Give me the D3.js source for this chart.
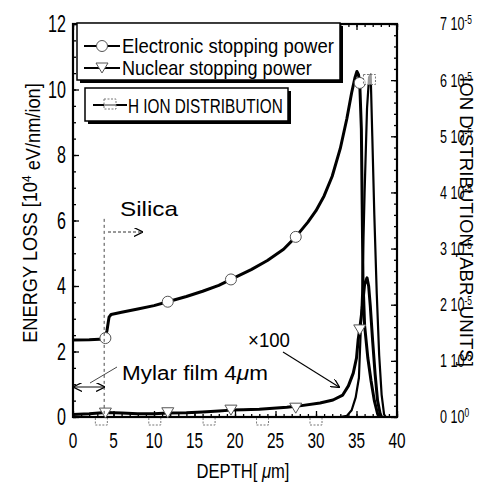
<!DOCTYPE html>
<html>
<head>
<meta charset="utf-8">
<script src="https://cdn.jsdelivr.net/npm/d3@7/dist/d3.min.js"></script>
<style>
  html, body { margin: 0; padding: 0; background: #fff; }
  svg { display: block; }
</style>
</head>
<body>
<div class="content"></div>
<script>
(function (window) {
    'use strict';

    // electronic stopping power [10^4 eV/nm/ion]
    var depthElec = [0, 2, 3.9, 4.0, 4.2, 4.45, 4.7, 6, 8, 10, 11.7, 14, 16, 18, 19.5, 22, 24, 26, 27.5, 29, 30, 31, 32, 33, 33.8, 34.4, 34.8, 35.05, 35.25, 35.4, 35.6, 35.7, 35.8, 36.0, 36.4, 36.8, 37.2, 37.6, 37.8];
    var elecLoss = [2.35, 2.36, 2.38, 2.41, 2.65, 3.05, 3.13, 3.2, 3.3, 3.4, 3.52, 3.68, 3.84, 4.02, 4.2, 4.5, 4.78, 5.12, 5.5, 5.95, 6.3, 6.75, 7.35, 8.2, 9.1, 9.9, 10.35, 10.55, 10.45, 10.2, 8.8, 6.5, 4.2, 2.8, 1.8, 1.1, 0.5, 0.1, 0];

    // nuclear stopping power x100
    var depthNuc = [0, 2, 4, 6, 8, 10, 11.7, 14, 16, 18, 19.5, 21, 23, 26.4, 28, 30.5, 32.1, 33.3, 34, 34.6, 35.0, 35.2, 35.4, 35.7, 36.0, 36.3, 36.5, 36.7, 37.0, 37.3, 37.6, 37.9, 38.1];
    var nucLoss = [0.08, 0.1, 0.14, 0.12, 0.1, 0.1, 0.12, 0.13, 0.15, 0.18, 0.21, 0.22, 0.24, 0.3, 0.34, 0.43, 0.52, 0.67, 0.95, 1.34, 1.8, 2.35, 2.69, 3.3, 4.05, 4.25, 4.0, 3.4, 2.3, 1.3, 0.5, 0.12, 0];

    // H ion distribution [10^-5 abr. units]
    var depthIon = [0, 10, 20, 30, 33, 33.8, 34.4, 34.9, 35.3, 35.7, 36.0, 36.3, 36.55, 36.75, 36.95, 37.2, 37.5, 37.8, 38.1, 38.4, 38.6];
    var ionDist = [0, 0, 0, 0, 0, 0.02, 0.12, 0.35, 0.7, 2.2, 4.0, 5.5, 6.05, 6.1, 5.0, 3.6, 2.2, 1.1, 0.4, 0.05, 0];

    // marker positions
    var markDepth = [4, 11.7, 19.5, 27.5, 35.4];
    var markElec = [2.41, 3.52, 4.2, 5.5, 10.2];
    var markNuc = [0.15, 0.16, 0.24, 0.3, 2.69];
    var markIonDepth = [3.5, 10.1, 16.8, 23.4, 30.0, 36.6];
    var markIon = [0, 0, 0, 0, 0, 6.1];

    var xTicks = [0, 5, 10, 15, 20, 25, 30, 35, 40];
    var yLeftTicks = [0, 2, 4, 6, 8, 10, 12];
    var yRightTicks = [0, 1, 2, 3, 4, 5, 6, 7];

    var W = 481, H = 483,
        FONT = '"Liberation Sans", Arial, sans-serif',
        NARROW = 0.7,
        plot = {left: 73, right: 397, top: 24, bottom: 417},
        svg, x, yL, yR, i;

    svg = d3.select(".content").append("svg")
        .attr("width", W).attr("height", H)
        .style("font-family", FONT);

    x = d3.scaleLinear().domain([0, 40]).range([plot.left, plot.right]);
    yL = d3.scaleLinear().domain([0, 12]).range([plot.bottom, plot.top]);
    yR = d3.scaleLinear().domain([0, 7]).range([plot.bottom, plot.top]);

    function zip(xs, ys) {
        return xs.map(function (d, k) { return [d, ys[k]]; });
    }

    function rangeStep(a, b, s) {
        return d3.range(Math.round((b - a) / s) + 1).map(function (k) { return a + k * s; });
    }

    // squeeze a text (drawn at 0,0) to a given width, the source font is very narrow
    function fitText(t, tx, ty, width, rot) {
        var len = t.node().getComputedTextLength();
        t.attr("transform", "translate(" + tx + "," + ty + ")" +
            (rot ? " rotate(" + rot + ")" : "") + " scale(" + (width / len) + ",1)");
        return t;
    }

    // ---- inward ticks (no labels, axis drawn with D3 then labels by hand)
    function tickAxis(axis, pos, vals, size) {
        var g = svg.append("g").attr("transform", pos)
            .call(axis.tickValues(vals).tickSize(size).tickFormat(""));
        g.select(".domain").remove();
        g.selectAll("line").attr("stroke", "#000").attr("stroke-width", 1.3);
        return g;
    }
    tickAxis(d3.axisBottom(x), "translate(0," + plot.bottom + ")", rangeStep(0, 40, 1), -3);
    tickAxis(d3.axisBottom(x), "translate(0," + plot.bottom + ")", xTicks, -6);
    tickAxis(d3.axisTop(x), "translate(0," + plot.top + ")", rangeStep(0, 40, 1), -3);
    tickAxis(d3.axisTop(x), "translate(0," + plot.top + ")", xTicks, -6);
    tickAxis(d3.axisLeft(yL), "translate(" + plot.left + ",0)", rangeStep(0, 12, 0.5), -3);
    tickAxis(d3.axisLeft(yL), "translate(" + plot.left + ",0)", yLeftTicks, -6);
    tickAxis(d3.axisRight(yR), "translate(" + plot.right + ",0)", rangeStep(0, 7, 0.2), -3);
    tickAxis(d3.axisRight(yR), "translate(" + plot.right + ",0)", yRightTicks, -6);

    // frame
    svg.append("rect")
        .attr("x", plot.left).attr("y", plot.top)
        .attr("width", plot.right - plot.left).attr("height", plot.bottom - plot.top)
        .attr("fill", "none").attr("stroke", "#000").attr("stroke-width", 2.2);

    // tick labels
    svg.append("g").selectAll("text").data(xTicks).enter().append("text")
        .attr("transform", function (d) { return "translate(" + x(d) + ",448) scale(" + NARROW + ",1)"; })
        .attr("text-anchor", "middle")
        .attr("font-size", 22)
        .text(function (d) { return d; });

    svg.append("g").selectAll("text").data(yLeftTicks).enter().append("text")
        .attr("transform", function (d) { return "translate(66," + yL(d) + ") scale(" + NARROW + ",1)"; })
        .attr("dy", "0.36em")
        .attr("text-anchor", "end")
        .attr("font-size", 23)
        .text(function (d) { return d; });

    var rt = svg.append("g").selectAll("text").data(yRightTicks).enter().append("text")
        .attr("transform", function (d) { return "translate(440," + yR(d) + ") scale(" + NARROW + ",1)"; })
        .attr("dy", "0.36em")
        .attr("font-size", 18);
    rt.append("tspan").text(function (d) { return d + " 10"; });
    rt.append("tspan").attr("dy", "-0.5em").attr("font-size", 12)
        .text(function (d) { return d === 0 ? "0" : "-5"; });

    // axis titles
    var yt = svg.append("text").attr("text-anchor", "middle").attr("font-size", 20);
    yt.append("tspan").text("ENERGY LOSS [10");
    yt.append("tspan").attr("dy", "-0.45em").attr("font-size", 13).text("4");
    yt.append("tspan").attr("dy", "0.45em").text(" eV/nm/ion]");
    fitText(yt, 37, 213, 260, -90);

    fitText(svg.append("text").attr("text-anchor", "middle").attr("font-size", 19)
        .text("ION DISTRIBUTION [ABR. UNITS]"), 460, 222, 290, 90);

    var xt = svg.append("text").attr("text-anchor", "middle").attr("font-size", 20);
    xt.append("tspan").text("DEPTH[ ");
    xt.append("tspan").attr("font-style", "italic").text("μ");
    xt.append("tspan").text("m]");
    fitText(xt, 243, 478, 93);

    // ---- curves
    var lineL = d3.line().x(function (d) { return x(d[0]); }).y(function (d) { return yL(d[1]); }),
        lineR = d3.line().x(function (d) { return x(d[0]); }).y(function (d) { return yR(d[1]); });

    svg.append("path").datum(zip(depthIon, ionDist))
        .attr("d", lineR).attr("fill", "none").attr("stroke", "#000")
        .attr("stroke-width", 2.2).attr("stroke-linejoin", "round");
    svg.append("path").datum(zip(depthNuc, nucLoss))
        .attr("d", lineL).attr("fill", "none").attr("stroke", "#000")
        .attr("stroke-width", 3).attr("stroke-linejoin", "round");
    svg.append("path").datum(zip(depthElec, elecLoss))
        .attr("d", lineL).attr("fill", "none").attr("stroke", "#000")
        .attr("stroke-width", 3).attr("stroke-linejoin", "round");

    // ---- markers
    var tri = "M-6,-4L6,-4L0,6Z",
        bracket = "M-6,1L-6,8L6,8L6,1";

    function circleMark(g, cx, cy) {
        g.append("circle").attr("cx", cx).attr("cy", cy).attr("r", 5.5)
            .attr("fill", "#fff").attr("stroke", "#555").attr("stroke-width", 1);
    }
    function triMark(g, cx, cy) {
        g.append("path").attr("d", tri).attr("transform", "translate(" + cx + "," + cy + ")")
            .attr("fill", "#fff").attr("stroke", "#555").attr("stroke-width", 1);
    }
    function ionMark(g, cx, cy, peak) {
        g.append("path").attr("d", peak ? "M-6,0L6,0L6,10L-6,10Z" : bracket)
            .attr("transform", "translate(" + cx + "," + cy + ")")
            .attr("fill", peak ? "#fff" : "none").attr("fill-opacity", 0.6)
            .attr("stroke", "#777").attr("stroke-width", 1)
            .attr("stroke-dasharray", "2,1.5");
    }

    var marks = svg.append("g");
    for (i = 0; i < markDepth.length; i += 1) {
        circleMark(marks, x(markDepth[i]), yL(markElec[i]));
        triMark(marks, x(markDepth[i]), yL(markNuc[i]));
    }
    for (i = 0; i < markIonDepth.length; i += 1) {
        ionMark(marks, x(markIonDepth[i]), yR(markIon[i]), i === markIonDepth.length - 1);
    }

    // ---- annotations
    var defs = svg.append("defs");
    defs.append("marker").attr("id", "arr").attr("viewBox", "0 0 10 10")
        .attr("refX", 9).attr("refY", 5).attr("markerWidth", 9).attr("markerHeight", 9)
        .attr("markerUnits", "userSpaceOnUse").attr("orient", "auto-start-reverse")
        .append("path").attr("d", "M0,0L10,5L0,10").attr("fill", "none")
        .attr("stroke", "#000").attr("stroke-width", 1.4);

    // mylar / silica boundary
    svg.append("line")
        .attr("x1", x(3.85)).attr("x2", x(3.85))
        .attr("y1", yL(6.05)).attr("y2", plot.bottom)
        .attr("stroke", "#333").attr("stroke-width", 0.9).attr("stroke-dasharray", "3,3");

    fitText(svg.append("text").attr("font-size", 20).text("Silica"), 120, 216, 58);
    svg.append("line").attr("x1", 108).attr("y1", 232).attr("x2", 142).attr("y2", 232)
        .attr("stroke", "#333").attr("stroke-width", 1).attr("stroke-dasharray", "3,2")
        .attr("marker-end", "url(#arr)");

    var mt = svg.append("text").attr("font-size", 20);
    mt.append("tspan").text("Mylar film 4");
    mt.append("tspan").attr("font-style", "italic").text("μ");
    mt.append("tspan").text("m");
    fitText(mt, 122, 380, 146);
    svg.append("line").attr("x1", plot.left + 1).attr("y1", 387).attr("x2", x(3.85)).attr("y2", 387)
        .attr("stroke", "#333").attr("stroke-width", 1.2)
        .attr("marker-start", "url(#arr)").attr("marker-end", "url(#arr)");
    svg.append("line").attr("x1", 90).attr("y1", 383).attr("x2", 117).attr("y2", 367)
        .attr("stroke", "#333").attr("stroke-width", 0.9);

    fitText(svg.append("text").attr("font-size", 20).text("×100"), 248, 347, 42);
    svg.append("line").attr("x1", 283).attr("y1", 352).attr("x2", 339).attr("y2", 387)
        .attr("stroke", "#000").attr("stroke-width", 1.1)
        .attr("marker-end", "url(#arr)");

    // ---- legends (boxes with drop shadow)
    function legendBox(x0, y0, w, h) {
        svg.append("rect").attr("x", x0 + 3).attr("y", y0 + 3).attr("width", w).attr("height", h)
            .attr("fill", "#000");
        svg.append("rect").attr("x", x0).attr("y", y0).attr("width", w).attr("height", h)
            .attr("fill", "#fff").attr("stroke", "#000").attr("stroke-width", 1.5);
    }
    function legendLine(x1, x2, yy) {
        svg.append("line").attr("x1", x1).attr("x2", x2).attr("y1", yy).attr("y2", yy)
            .attr("stroke", "#000").attr("stroke-width", 2);
    }

    legendBox(77, 23, 263, 57);
    legendLine(84, 120, 46);
    circleMark(svg, 102, 46);
    fitText(svg.append("text").attr("font-size", 20).text("Electronic stopping power"), 122, 53, 212);
    legendLine(84, 120, 68);
    triMark(svg, 102, 67);
    fitText(svg.append("text").attr("font-size", 20).text("Nuclear stopping power"), 122, 75, 190);

    legendBox(85, 88, 203, 33);
    legendLine(93, 127, 105);
    ionMark(svg, 110, 99, true);
    fitText(svg.append("text").attr("font-size", 20).text("H ION DISTRIBUTION"), 128, 113, 155);
}(window));
</script>
</body>
</html>
